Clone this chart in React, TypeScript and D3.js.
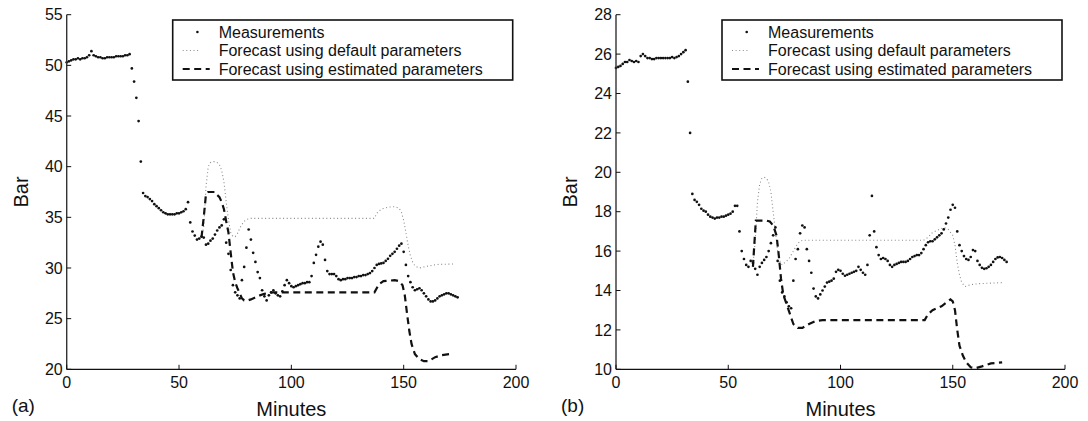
import React from "react";
import * as d3 from "d3";

const W = 1088;
const H = 421;
const FONT = "'Liberation Sans', Arial, Helvetica, sans-serif";

const X_TICKS = [0, 50, 100, 150, 200];
const A_Y_TICKS = [20, 25, 30, 35, 40, 45, 50, 55];
const B_Y_TICKS = [10, 12, 14, 16, 18, 20, 22, 24, 26, 28];
const LEGEND_LABELS = [
  "Measurements",
  "Forecast using default parameters",
  "Forecast using estimated parameters",
];

// Measurements, one value per minute starting at t = 0
const MEAS_STEP = 1;
const A_MEAS = [
  50.3, 50.4, 50.5, 50.6, 50.6, 50.7, 50.6, 50.7, 50.7, 50.8,
  51.0, 51.4, 51.0, 50.9, 50.8, 50.8, 50.7, 50.7, 50.8, 50.8,
  50.8, 50.8, 50.9, 50.9, 50.9, 50.9, 51.0, 51.0, 51.1, 49.7,
  48.4, 46.8, 44.5, 40.5, 37.4, 37.1, 37.0, 36.8, 36.6, 36.3,
  36.1, 35.9, 35.7, 35.5, 35.4, 35.3, 35.3, 35.3, 35.3, 35.4,
  35.4, 35.5, 35.6, 35.8, 36.5, 34.5, 33.6, 33.2, 32.8, 32.9,
  33.1, 33.0, 32.3, 32.4, 32.7, 32.9, 33.3, 33.7, 34.0, 34.2,
  34.8, 32.5, 31.4, 29.8, 28.3, 27.6, 27.3, 27.0, 28.8, 30.1,
  32.0, 33.8, 32.8, 31.5, 30.6, 29.6, 29.0, 27.8, 27.2, 26.8,
  27.3, 27.6, 27.8, 27.5, 27.3, 27.2, 27.7, 28.3, 28.8, 28.5,
  28.2, 28.1, 28.2, 28.3, 28.4, 28.5, 28.5, 28.6, 28.6, 29.2,
  30.5, 31.3, 32.1, 32.6, 32.3, 30.8, 29.7, 29.4, 29.4, 29.4,
  29.2, 28.9, 28.8, 28.9, 28.9, 29.0, 29.0, 29.0, 29.1, 29.1,
  29.2, 29.2, 29.3, 29.3, 29.4, 29.5, 29.7, 30.0, 30.3, 30.4,
  30.45, 30.5, 30.7, 30.9, 31.2, 31.4, 31.6, 31.9, 32.2, 32.4,
  31.6, 30.3, 29.2, 28.6, 28.1, 27.8, 27.9, 28.0, 27.8, 27.5,
  27.2, 26.9, 26.7, 26.7, 26.8, 27.0, 27.2, 27.3, 27.4, 27.5,
  27.5, 27.4, 27.3, 27.2, 27.1,
];
const A_DEF_T = [60, 61, 62, 63, 64, 65, 66, 67, 68, 69, 70, 71, 72, 73, 74, 75, 76, 77, 78, 79, 80, 82, 137, 138, 140, 143, 146, 148, 149, 150, 151, 152, 153, 154, 155, 157, 160, 165, 173];
const A_DEF_V = [33.0, 34.0, 38.0, 40.0, 40.4, 40.5, 40.5, 40.4, 40.2, 39.6, 38.5, 36.5, 34.8, 33.5, 33.1, 33.1, 33.4, 33.9, 34.3, 34.6, 34.8, 34.9, 34.9, 35.4, 35.8, 36.0, 36.05, 35.9, 35.5, 34.7, 33.5, 32.2, 31.2, 30.6, 30.2, 30.0, 30.15, 30.35, 30.4];
const A_EST_T = [60, 61, 62, 63, 66, 67, 68, 69, 70, 71, 72, 73, 74, 75, 76, 77, 78, 79, 80, 82, 84, 86, 88, 90, 92, 137, 139, 141, 146, 148, 149.5, 150.5, 151.5, 152.5, 153.5, 155, 157, 159, 161, 164, 167, 172];
const A_EST_V = [33.0, 35.0, 37.3, 37.5, 37.5, 37.2, 37.0, 36.5, 35.8, 34.6, 33.5, 31.5, 29.6, 28.6, 28.0, 27.5, 27.0, 26.8, 26.75, 26.9, 27.1, 27.3, 27.45, 27.55, 27.6, 27.6, 28.4, 28.7, 28.8, 28.7, 28.3, 27.3, 25.5, 23.8, 22.5, 21.5, 21.0, 20.8, 20.8, 21.2, 21.4, 21.55];

const B_MEAS = [
  25.3, 25.35, 25.4, 25.5, 25.6, 25.6, 25.7, 25.65, 25.6, 25.65,
  25.6, 25.9, 26.0, 25.9, 25.8, 25.8, 25.75, 25.75, 25.8, 25.8,
  25.8, 25.8, 25.8, 25.8, 25.8, 25.85, 25.8, 25.85, 25.9, 26.0,
  26.1, 26.2, 24.6, 22.0, 18.9, 18.6, 18.5, 18.35, 18.15, 18.05,
  18.0, 17.85, 17.75, 17.7, 17.65, 17.7, 17.7, 17.75, 17.75, 17.8,
  17.85, 17.9, 18.0, 18.3, 18.3, 17.0, 16.0, 15.6, 15.3, 15.2,
  15.5, 15.4, 15.1, 14.8, 15.2, 15.4, 15.55, 15.7, 16.0, 16.4,
  16.8, 17.2, 15.5, 14.5, 13.9, 13.7, 13.4, 13.2, 13.1, 14.5,
  15.6, 16.1, 16.9, 17.3, 17.2, 16.1, 15.5, 14.9, 14.1, 13.7,
  13.6, 13.8, 14.0, 14.2, 14.4, 14.45, 14.5, 14.6, 14.95, 15.05,
  15.0, 14.85, 14.75, 14.8, 14.85, 14.9, 14.95, 15.0, 15.2, 15.05,
  14.9, 14.8, 15.3, 16.8, 18.8, 17.0, 16.2, 15.8, 15.6, 15.65,
  15.6, 15.5, 15.3, 15.2, 15.3, 15.35, 15.4, 15.45, 15.45, 15.45,
  15.5, 15.6, 15.7, 15.75, 15.8, 15.8, 15.9, 16.1, 16.3, 16.45,
  16.5, 16.5, 16.6, 16.7, 16.8, 16.9, 17.1, 17.4, 17.7, 18.1,
  18.35, 18.2, 17.0, 16.3, 16.0, 15.75, 15.6, 15.55, 15.7, 16.05,
  16.0, 15.5, 15.3, 15.15, 15.1, 15.13, 15.2, 15.3, 15.45, 15.6,
  15.68, 15.7, 15.65, 15.55, 15.45,
];
const B_DEF_T = [61, 62, 63, 64, 65, 66, 67, 68, 69, 70, 71, 72, 73, 74, 75, 77, 79, 81, 83, 137, 139, 141, 144, 146, 148, 150, 151, 152, 153, 154, 155.5, 158, 162, 172];
const B_DEF_V = [15.3, 16.5, 18.5, 19.4, 19.7, 19.75, 19.7, 19.5, 19.0, 18.0, 17.0, 16.0, 15.5, 15.3, 15.4, 15.6, 16.0, 16.4, 16.55, 16.55, 16.7, 16.95, 17.1, 17.2, 17.1, 16.8, 16.3, 15.4, 14.8, 14.4, 14.2, 14.3, 14.35, 14.4];
const B_EST_T = [61, 61.7, 62.3, 67, 68.5, 70, 71.5, 72.5, 73.5, 74.5, 76, 77.5, 79, 81, 83, 86, 89, 92, 137.5, 139, 141, 145, 149, 150, 151, 152, 153, 154.5, 156, 158, 160, 163, 167, 172];
const B_EST_V = [15.2, 16.5, 17.55, 17.55, 17.5, 17.3, 16.8, 15.8, 14.6, 13.8, 13.3, 12.8, 12.3, 12.1, 12.1, 12.3, 12.45, 12.5, 12.5, 12.8, 13.0, 13.2, 13.55, 13.45, 13.0, 12.0, 11.2, 10.7, 10.35, 10.1, 10.05, 10.15, 10.3, 10.35];

type PanelProps = {
  left: number;
  right: number;
  top: number;
  bottom: number;
  yDomain: [number, number];
  yTicks: number[];
  meas: number[];
  defT: number[];
  defV: number[];
  estT: number[];
  estV: number[];
  tag: string;
};

function Panel(p: PanelProps) {
  const x = d3.scaleLinear().domain([0, 200]).range([p.left, p.right]);
  const y = d3.scaleLinear().domain(p.yDomain).range([p.bottom, p.top]);
  const line = d3
    .line<[number, number]>()
    .x((d) => x(d[0]))
    .y((d) => y(d[1]));
  const defPts = p.defT.map((t, i) => [t, p.defV[i]] as [number, number]);
  const estPts = p.estT.map((t, i) => [t, p.estV[i]] as [number, number]);
  const lgX = p.left + 106;
  const lgY = 20;
  const rows = [32, 50.5, 69];
  return (
    <g>
      {/* data */}
      <path d={line(defPts) || ""} fill="none" stroke="#8a8a8a" strokeWidth={1.1} strokeDasharray="1 2.6" />
      <path d={line(estPts) || ""} fill="none" stroke="#111" strokeWidth={2.2} strokeDasharray="7 4.5" />
      {p.meas.map((v, i) => (
        <circle key={i} cx={x(i * MEAS_STEP)} cy={y(v)} r={1.35} fill="#111" />
      ))}
      {/* axes */}
      <line x1={p.left} x2={p.left} y1={p.top} y2={p.bottom} stroke="#333" strokeWidth={1.4} />
      <line x1={p.left} x2={p.right} y1={p.bottom} y2={p.bottom} stroke="#111" strokeWidth={1.2} />
      {p.yTicks.map((t) => (
        <g key={"y" + t}>
          <line x1={p.left} x2={p.left + 4.5} y1={y(t)} y2={y(t)} stroke="#111" strokeWidth={1} />
          <text x={p.left - 4} y={y(t)} dy="0.36em" textAnchor="end" fontSize={16} fontFamily={FONT} fill="#111">
            {t}
          </text>
        </g>
      ))}
      {X_TICKS.map((t) => (
        <g key={"x" + t}>
          <line x1={x(t)} x2={x(t)} y1={p.bottom} y2={p.bottom - 4.5} stroke="#111" strokeWidth={1} />
          <text x={x(t)} y={p.bottom + 13} dy="0.36em" textAnchor="middle" fontSize={16} fontFamily={FONT} fill="#111">
            {t}
          </text>
        </g>
      ))}
      <text
        transform={`translate(${p.left - 39},${(p.top + p.bottom) / 2}) rotate(-90)`}
        textAnchor="middle"
        fontSize={20}
        fontFamily={FONT}
        fill="#111"
      >
        Bar
      </text>
      <text x={(p.left + p.right) / 2} y={416} textAnchor="middle" fontSize={20} fontFamily={FONT} fill="#111">
        Minutes
      </text>
      <text x={p.left - 55} y={412} fontSize={19} fontFamily={FONT} fill="#111">
        {p.tag}
      </text>
      {/* legend */}
      <rect x={lgX} y={lgY} width={340} height={60} fill="#fff" stroke="#111" strokeWidth={1.6} />
      <circle cx={lgX + 24.7} cy={rows[0]} r={1.3} fill="#111" />
      <line x1={lgX + 10} x2={lgX + 28} y1={rows[1]} y2={rows[1]} stroke="#8a8a8a" strokeWidth={1.1} strokeDasharray="1 2.6" />
      <line x1={lgX + 10} x2={lgX + 37} y1={rows[2]} y2={rows[2]} stroke="#111" strokeWidth={2.2} strokeDasharray="7 4.5" />
      {LEGEND_LABELS.map((s, i) => (
        <text key={s} x={lgX + 46} y={rows[i]} dy="0.36em" fontSize={16} fontFamily={FONT} fill="#111">
          {s}
        </text>
      ))}
    </g>
  );
}

export default function App() {
  return (
    <svg width={W} height={H} style={{ position: "absolute", left: 0, top: 0, background: "#fff" }}>
      <rect x={0} y={0} width={W} height={H} fill="#fff" />
      <Panel
        left={66.7}
        right={516}
        top={14.7}
        bottom={369.3}
        yDomain={[20, 55]}
        yTicks={A_Y_TICKS}
        meas={A_MEAS}
        defT={A_DEF_T}
        defV={A_DEF_V}
        estT={A_EST_T}
        estV={A_EST_V}
        tag="(a)"
      />
      <Panel
        left={616}
        right={1065}
        top={14.7}
        bottom={369.3}
        yDomain={[10, 28]}
        yTicks={B_Y_TICKS}
        meas={B_MEAS}
        defT={B_DEF_T}
        defV={B_DEF_V}
        estT={B_EST_T}
        estV={B_EST_V}
        tag="(b)"
      />
    </svg>
  );
}
